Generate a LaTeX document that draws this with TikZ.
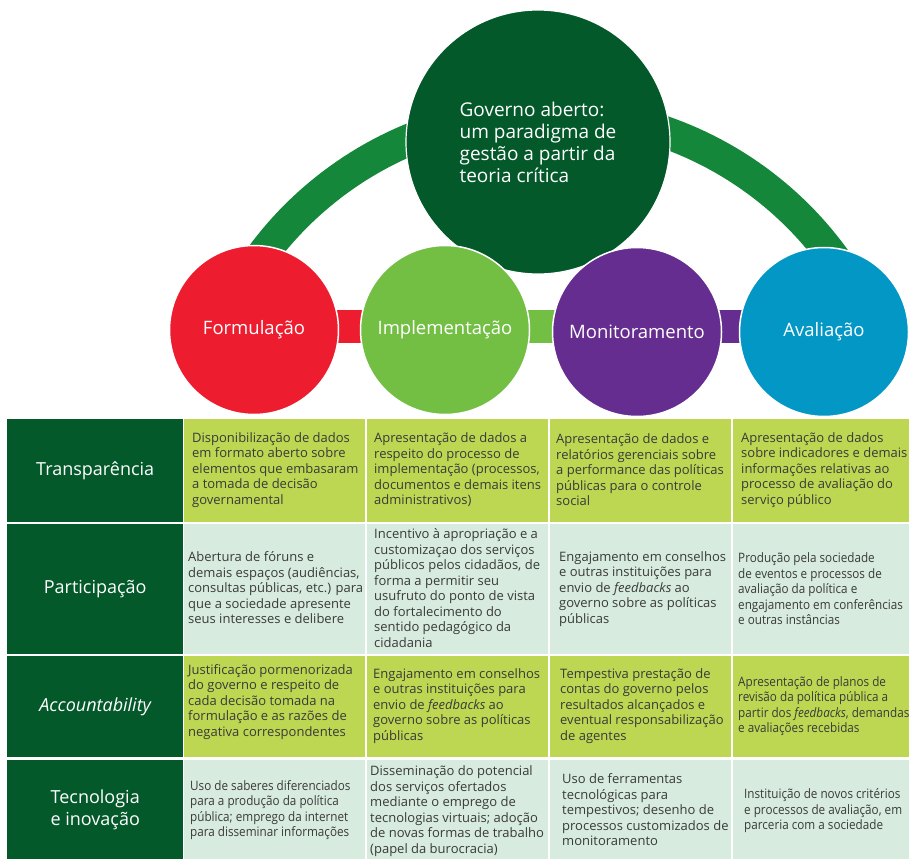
\documentclass[tikz,border=0pt]{standalone}
\usepackage{fontspec}
\setmainfont{Open Sans}
\newfontfamily\condfont[FakeStretch=0.9]{Open Sans}
\usetikzlibrary{backgrounds}
\definecolor{dkgreen}{HTML}{03592A}
\definecolor{ringgreen}{HTML}{15873B}
\definecolor{fred}{HTML}{ED1C2E}
\definecolor{igreen}{HTML}{72BF44}
\definecolor{mpurple}{HTML}{662D91}
\definecolor{ablue}{HTML}{0397C5}
\definecolor{ygreen}{HTML}{BED752}
\definecolor{lgreen}{HTML}{D7EBDE}
\definecolor{txtgray}{HTML}{3A3A3A}
\begin{document}
\begin{tikzpicture}[x=1pt,y=-1pt,
  bigc/.style={circle, fill=dkgreen, draw=white, line width=1.2pt, minimum size=264pt, inner sep=0pt, text=white, align=left, font=\fontsize{19}{22}\selectfont},
  smallc/.style={circle, draw=white, line width=1.5pt, minimum size=169pt, inner sep=0pt, text=white, font=\fontsize{18.5}{22}\selectfont},
  linkbar/.style={line width=33pt},
  ringarc/.style={draw=ringgreen, line width=32pt},
  hdr/.style={anchor=north west, fill=dkgreen, text=white, inner sep=0pt, align=center, minimum width=176pt, font=\fontsize{18}{22}\selectfont},
  cellY/.style={anchor=north west, fill=ygreen, inner sep=0pt, minimum width=181pt},
  cellL/.style={anchor=north west, fill=lgreen, inner sep=0pt, minimum width=181pt},
  ctext/.style={anchor=west, inner sep=0pt, align=left, text=txtgray, font=\fontsize{13}{15.5}\selectfont},
  ctextc/.style={ctext, font=\condfont\fontsize{13}{15.5}\selectfont},
]
\useasboundingbox (0,0) rectangle (909,859);

% ---- top diagram ----
\node[bigc] (gov) at (538,142) {Governo aberto:\\um paradigma de\\gestão a partir da\\teoria crítica};
\node[smallc, fill=fred] (form) at (254,330) {Formulação};
\node[smallc, fill=igreen] (impl) at (445,330) {Implementação};
\node[smallc, fill=mpurple] (moni) at (637,332) {Monitoramento};
\node[smallc, fill=ablue] (aval) at (824,332) {Avaliação};

\begin{pgfonlayer}{background}
  \draw[ringarc] plot[domain=-148:-32, samples=90] ({547+355*cos(\x)},{467+355*sin(\x)});
  \draw[linkbar, fred] ([yshift=3.5pt]form.center) -- ([yshift=3.5pt]impl.center);
  \draw[linkbar, igreen] ([yshift=3.5pt]impl.center) -- ([yshift=5.5pt]moni.center);
  \draw[linkbar, mpurple] ([yshift=5.5pt]moni.center) -- ([yshift=5.5pt]aval.center);
\end{pgfonlayer}

% ---- table: row headers ----
\node[hdr, minimum height=103pt] (h1) at (7,419) {Transparência};
\node[hdr, minimum height=130pt] (h2) at (7,524) {Participação};
\node[hdr, minimum height=101pt] (h3) at (7,656) {\itshape Accountability};
\node[hdr, minimum height=99pt] (h4) at (7,760) {Tecnologia\\e inovação};

% ---- row 1 ----
\node[cellY, minimum height=103pt] (c12) at (184,419) {};
\node[cellY, minimum height=103pt] (c13) at (367,419) {};
\node[cellY, minimum height=103pt] (c14) at (550,419) {};
\node[cellY, minimum height=103pt, minimum width=176pt] (c15) at (733,419) {};
% ---- row 2 ----
\node[cellL, minimum height=130pt] (c22) at (184,524) {};
\node[cellL, minimum height=130pt] (c23) at (367,524) {};
\node[cellL, minimum height=130pt] (c24) at (550,524) {};
\node[cellL, minimum height=130pt, minimum width=176pt] (c25) at (733,524) {};
% ---- row 3 ----
\node[cellY, minimum height=101pt] (c32) at (184,656) {};
\node[cellY, minimum height=101pt] (c33) at (367,656) {};
\node[cellY, minimum height=101pt] (c34) at (550,656) {};
\node[cellY, minimum height=101pt, minimum width=176pt] (c35) at (733,656) {};
% ---- row 4 ----
\node[cellL, minimum height=99pt] (c42) at (184,760) {};
\node[cellL, minimum height=99pt] (c43) at (367,760) {};
\node[cellL, minimum height=99pt] (c44) at (550,760) {};
\node[cellL, minimum height=99pt, minimum width=176pt] (c45) at (733,760) {};

% ---- cell texts ----
\node[ctext] (t12) at (192,470) {Disponibilização de dados\\em formato aberto sobre\\elementos que embasaram\\a tomada de decisão\\governamental};
\node[ctext] (t13) at (374,470) {Apresentação de dados a\\respeito do processo de\\implementação (processos,\\documentos e demais itens\\administrativos)};
\node[ctext] (t14) at (556,470) {Apresentação de dados e\\relatórios gerenciais sobre\\a performance das políticas\\públicas para o controle\\social};
\node[ctext] (t15) at (741,470) {Apresentação de dados\\sobre indicadores e demais\\informações relativas ao\\processo de avaliação do\\serviço público};

\node[ctext] (t22) at (188,588) {Abertura de fóruns e\\demais espaços (audiências,\\consultas públicas, etc.) para\\que a sociedade apresente\\seus interesses e delibere};
\node[ctext] (t23) at (374,588) {Incentivo à apropriação e a\\customizaçao dos serviços\\públicos pelos cidadãos, de\\forma a permitir seu\\usufruto do ponto de vista\\do fortalecimento do\\sentido pedagógico da\\cidadania};
\node[ctext] (t24) at (559,589) {Engajamento em conselhos\\e outras instituições para\\envio de \textit{feedbacks} ao\\governo sobre as políticas\\públicas};
\node[ctextc] (t25) at (738,589) {Produção pela sociedade\\de eventos e processos de\\avaliação da política e\\engajamento em conferências\\e outras instâncias};

\node[ctext] (t32) at (188,702) {Justificação pormenorizada\\do governo e respeito de\\cada decisão tomada na\\formulação e as razões de\\negativa correspondentes};
\node[ctext] (t33) at (373,706) {Engajamento em conselhos\\e outras instituições para\\envio de \textit{feedbacks} ao\\governo sobre as políticas\\públicas};
\node[ctext] (t34) at (560,706) {Tempestiva prestação de\\contas do governo pelos\\resultados alcançados e\\eventual responsabilização\\de agentes};
\node[ctextc] (t35) at (738,706) {Apresentação de planos de\\revisão da política pública a\\partir dos \textit{feedbacks}, demandas\\e avaliações recebidas};

\node[ctextc] (t42) at (190,810) {Uso de saberes diferenciados\\para a produção da política\\pública; emprego da internet\\para disseminar informações};
\node[ctext] (t43) at (370,811) {Disseminação do potencial\\dos serviços ofertados\\mediante o emprego de\\tecnologias virtuais; adoção\\de novas formas de trabalho\\(papel da burocracia)};
\node[ctext] (t44) at (562,810) {Uso de ferramentas\\tecnológicas para\\tempestivos; desenho de\\processos customizados de\\monitoramento};
\node[ctextc] (t45) at (744,811) {Instituição de novos critérios\\e processos de avaliação, em\\parceria com a sociedade};
\end{tikzpicture}
\end{document}
